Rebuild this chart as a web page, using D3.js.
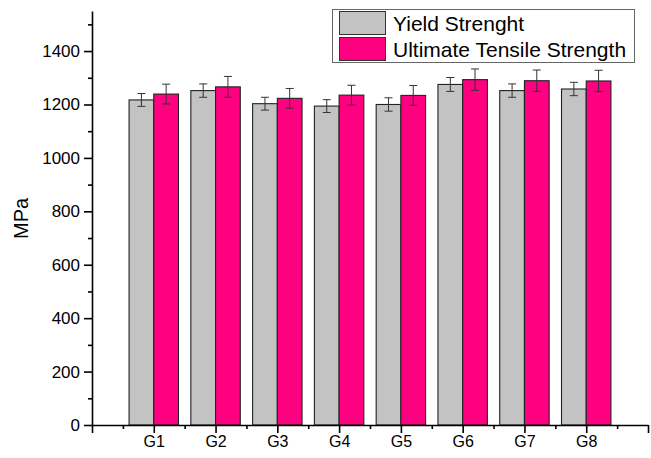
<!DOCTYPE html>
<html>
<head>
<meta charset="utf-8">
<script src="https://cdn.jsdelivr.net/npm/d3@7"></script>
<style>
  html, body { margin: 0; padding: 0; background: #fff; }
  svg { display: block; }
  text { font-family: "Liberation Sans", Arial, sans-serif; fill: #000; }
</style>
</head>
<body>
<svg id="chart" width="651" height="458"></svg>
<script>
// Groups and their measured strengths (MPa) with standard deviations
const groups = ["G1", "G2", "G3", "G4", "G5", "G6", "G7", "G8"];
const yieldStrength = [1217, 1252, 1203, 1194, 1200, 1275, 1252, 1258];
const yieldError = [24, 25, 24, 24, 25, 26, 25, 25];
const tensileStrength = [1239, 1266, 1223, 1235, 1234, 1293, 1289, 1288];
const tensileError = [37, 39, 37, 37, 37, 40, 40, 40];
const seriesNames = ["Yield Strenght", "Ultimate Tensile Strength"];
const seriesColors = ["#c3c3c3", "#ff0080"];
const yTicks = [0, 200, 400, 600, 800, 1000, 1200, 1400];

const svg = d3.select("#chart");
const margin = { left: 92, right: 3, top: 11, bottom: 33 };
const W = 651, H = 458;

// Group positions: the axis runs one slot before G1 and one slot after G8
const x = d3.scaleLinear().domain([0, groups.length + 1]).range([margin.left, W - margin.right]);
const y = d3.scaleLinear().domain([0, 1550]).range([H - margin.bottom, margin.top]);
const slot = x(1) - x(0);
const barW = slot * 0.4;

const series = [
  { name: seriesNames[0], values: yieldStrength, errors: yieldError, color: seriesColors[0], offset: -1 },
  { name: seriesNames[1], values: tensileStrength, errors: tensileError, color: seriesColors[1], offset: 0 }
];

// Bars
series.forEach(s => {
  svg.append("g").selectAll("rect")
    .data(s.values)
    .join("rect")
    .attr("x", (d, i) => x(i + 1) + s.offset * barW)
    .attr("y", d => y(d))
    .attr("width", barW)
    .attr("height", d => y(0) - y(d))
    .attr("fill", s.color)
    .attr("stroke", "#222")
    .attr("stroke-width", 1.1);
});

// Error bars
series.forEach(s => {
  const g = svg.append("g").attr("stroke", "#333").attr("stroke-width", 1).attr("fill", "none");
  s.values.forEach((v, i) => {
    const cx = x(i + 1) + s.offset * barW + barW / 2;
    const top = y(v + s.errors[i]);
    const bot = y(v - s.errors[i]);
    g.append("line").attr("x1", cx).attr("x2", cx).attr("y1", top).attr("y2", bot);
    g.append("line").attr("x1", cx - 4).attr("x2", cx + 4).attr("y1", top).attr("y2", top);
    g.append("line").attr("x1", cx - 4).attr("x2", cx + 4).attr("y1", bot).attr("y2", bot);
  });
});

// Y axis: major ticks every 200, minor every 100
const yMinor = svg.append("g").attr("transform", `translate(${margin.left},0)`)
  .call(d3.axisLeft(y).tickValues(d3.range(100, 1600, 200)).tickSize(4).tickFormat(""));
yMinor.select(".domain").remove();
yMinor.selectAll(".tick line").attr("stroke", "#000").attr("stroke-width", 1.6);
const yMajor = svg.append("g").attr("transform", `translate(${margin.left},0)`)
  .call(d3.axisLeft(y).tickValues(yTicks).tickSize(8).tickSizeOuter(0).tickPadding(4).tickFormat(d3.format("d")));
yMajor.select(".domain").attr("stroke", "#000").attr("stroke-width", 1.6);
yMajor.selectAll(".tick line").attr("stroke", "#000").attr("stroke-width", 1.6);
yMajor.selectAll(".tick text").style("font-size", "17px");

// X axis: labelled ticks at groups, minor ticks between them
const xMinor = svg.append("g").attr("transform", `translate(0,${y(0)})`)
  .call(d3.axisBottom(x).tickValues(d3.range(0.5, groups.length + 1, 1)).tickSize(4).tickFormat(""));
xMinor.select(".domain").remove();
xMinor.selectAll(".tick line").attr("stroke", "#000").attr("stroke-width", 1.6);
const xMajor = svg.append("g").attr("transform", `translate(0,${y(0)})`)
  .call(d3.axisBottom(x).tickValues(d3.range(0, groups.length + 2))
    .tickSize(8).tickSizeOuter(0).tickPadding(3)
    .tickFormat(i => (i >= 1 && i <= groups.length) ? groups[i - 1] : ""));
xMajor.select(".domain").attr("stroke", "#000").attr("stroke-width", 1.6);
xMajor.selectAll(".tick line").attr("stroke", "#000").attr("stroke-width", 1.6);
xMajor.selectAll(".tick text").style("font-size", "16px");

// Y axis title
svg.append("text")
  .attr("transform", "translate(28,239) rotate(-90)")
  .attr("text-anchor", "start")
  .style("font-size", "20px")
  .text("MPa");

// Legend
const legend = svg.append("g");
legend.append("rect")
  .attr("x", 332.5).attr("y", 9.5).attr("width", 302).attr("height", 53)
  .attr("fill", "#fff").attr("stroke", "#666").attr("stroke-width", 1);
series.forEach((s, i) => {
  const ry = 11.5 + i * 26;
  legend.append("rect")
    .attr("x", 339.5).attr("y", ry).attr("width", 46).attr("height", 23)
    .attr("fill", s.color).attr("stroke", "#333").attr("stroke-width", 1);
  legend.append("text")
    .attr("x", 393).attr("y", ry + 19)
    .style("font-size", "21px")
    .text(s.name);
});
</script>
</body>
</html>
